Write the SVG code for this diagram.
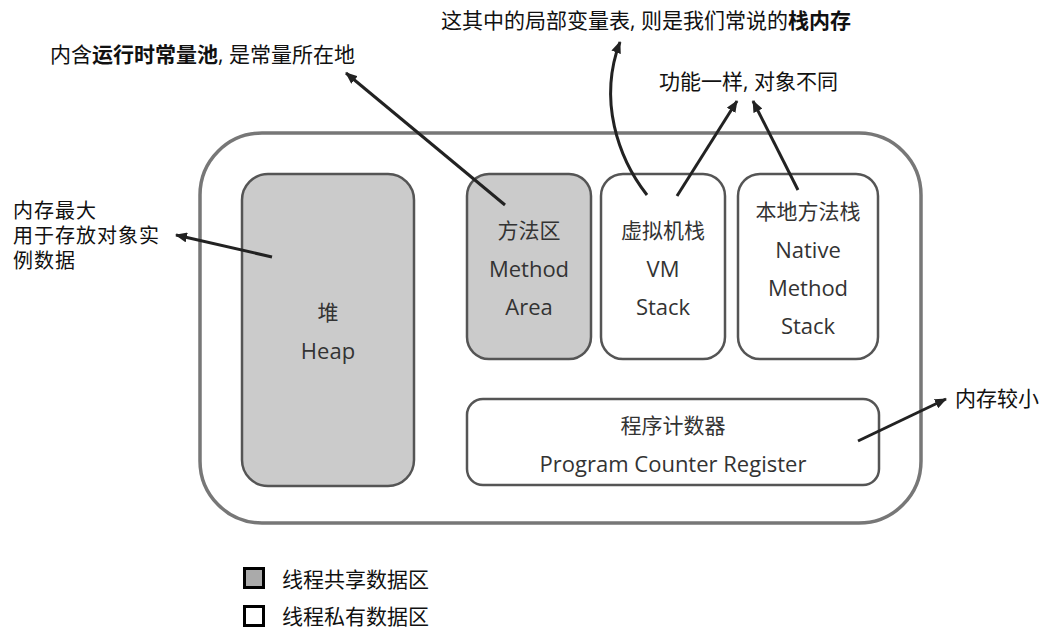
<svg xmlns="http://www.w3.org/2000/svg" width="1052" height="642" viewBox="0 0 1052 642">
<defs>
<marker id="ah" markerWidth="12" markerHeight="10" refX="11" refY="5" orient="auto" markerUnits="userSpaceOnUse">
<path d="M0,0 L12,5 L0,10 Z" fill="#222"/>
</marker>
<style>
.cn{font-family:"Open Sans","Noto Sans CJK SC",sans-serif;font-size:21px;fill:#333;text-anchor:middle;dominant-baseline:central}
.la{font-size:22px}
.an{font-family:"Open Sans","Noto Sans CJK SC",sans-serif;font-size:21px;fill:#111;dominant-baseline:central}
.sm{font-size:20px;letter-spacing:1px}
.b{font-weight:bold}
.sh{fill:#cbcbcb;stroke:#555;stroke-width:2.5}
.pr{fill:#fff;stroke:#555;stroke-width:2.5}
.ln{fill:none;stroke:#222;stroke-width:3;marker-end:url(#ah)}
</style>
</defs>
<rect width="1052" height="642" fill="#fff"/>
<g id="jvm">
<rect x="200" y="133" width="721" height="390" rx="62" ry="62" fill="#fff" stroke="#777" stroke-width="3.5"/>
</g>
<g id="heap">
<rect class="sh" x="242" y="174" width="172" height="312" rx="26"/>
<text class="cn" x="328" y="312">堆</text>
<text class="cn la" x="328" y="350">Heap</text>
</g>
<g id="method-area">
<rect class="sh" x="467" y="174" width="124" height="185" rx="22"/>
<text class="cn" x="529" y="230">方法区</text>
<text class="cn la" x="529" y="268">Method</text>
<text class="cn la" x="529" y="306">Area</text>
</g>
<g id="vm-stack">
<rect class="pr" x="601" y="174" width="124" height="185" rx="22"/>
<text class="cn" x="663" y="230">虚拟机栈</text>
<text class="cn la" x="663" y="268">VM</text>
<text class="cn la" x="663" y="306">Stack</text>
</g>
<g id="native-stack">
<rect class="pr" x="738" y="174" width="140" height="185" rx="22"/>
<text class="cn" x="808" y="211">本地方法栈</text>
<text class="cn la" x="808" y="249">Native</text>
<text class="cn la" x="808" y="287">Method</text>
<text class="cn la" x="808" y="325">Stack</text>
</g>
<g id="pc-register">
<rect class="pr" x="467" y="399" width="412" height="86" rx="16"/>
<text class="cn" x="673" y="425">程序计数器</text>
<text class="cn la" x="673" y="463">Program Counter Register</text>
</g>
<g id="connectors">
<line class="ln" x1="272" y1="257" x2="176" y2="235"/>
<line class="ln" x1="505" y1="205" x2="346" y2="73"/>
<path class="ln" d="M647,195 C618,158 598,100 620,42"/>
<line class="ln" x1="677" y1="196" x2="737" y2="101"/>
<line class="ln" x1="798" y1="190" x2="753" y2="101"/>
<line class="ln" x1="858" y1="441" x2="946" y2="399"/>
</g>
<g id="annotations">
<text class="an" x="441" y="20">这其中的局部变量表, 则是我们常说的<tspan class="b">栈内存</tspan></text>
<text class="an" x="50" y="54">内含<tspan class="b">运行时常量池</tspan>, 是常量所在地</text>
<text class="an" x="659" y="81">功能一样, 对象不同</text>
<text class="an sm" x="13" y="210">内存最大</text>
<text class="an sm" x="13" y="235">用于存放对象实</text>
<text class="an sm" x="13" y="260">例数据</text>
<text class="an" x="955" y="398">内存较小</text>
</g>
<g id="legend">
<rect x="244.5" y="568.5" width="19" height="19" fill="#aaa" stroke="#000" stroke-width="3"/>
<text class="an" x="282" y="579">线程共享数据区</text>
<rect x="244.5" y="606.5" width="19" height="19" fill="#fff" stroke="#000" stroke-width="3"/>
<text class="an" x="282" y="616">线程私有数据区</text>
</g>
</svg>
